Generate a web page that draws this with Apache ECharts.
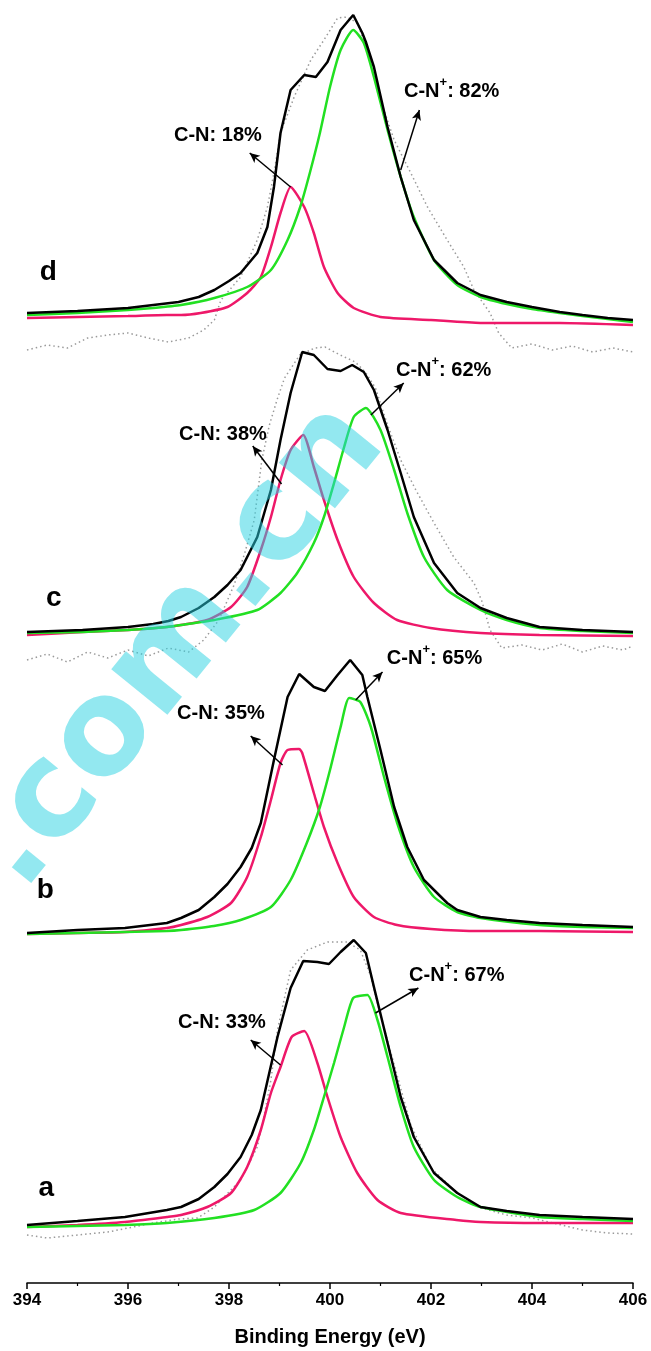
<!DOCTYPE html>
<html>
<head>
<meta charset="utf-8">
<script src="https://cdn.jsdelivr.net/npm/echarts@6/dist/echarts.min.js"></script>
<style>
html,body{margin:0;padding:0;background:#fff;}
#chart{width:651px;height:1351px;}
</style>
</head>
<body>
<div id="chart"></div>
<script>
// ---------- DATA (binding energy in eV, intensity in a.u.) ----------
const xTicks = [394, 396, 398, 400, 402, 404, 406];
const panelNames = ['a', 'b', 'c', 'd'];
const cnShare = [33, 35, 38, 18];
const cnPlusShare = [67, 65, 62, 82];

// sample a
const aEnvelope = [[394,5],[395,9],[395.94,13],[396.77,20],[397.05,23],[397.4,31],[397.71,43],[397.97,56],[398.23,73],[398.45,95],[398.63,120],[398.96,193],[399.22,242],[399.47,269],[399.75,268],[399.98,266],[400.21,278],[400.47,290],[400.71,277],[400.87,243],[401.14,187],[401.4,133],[401.66,93],[402.06,57],[402.52,37],[402.98,23],[403.5,19],[404.15,15],[405,13],[406,11]];
const aCN = [[394,3],[395,5],[395.94,8],[396.77,13],[397.05,15],[397.57,23],[398.04,37],[398.36,63],[398.63,100],[398.83,137],[399.02,163],[399.24,193],[399.49,199],[399.75,167],[399.95,133],[400.21,93],[400.54,57],[400.94,30],[401.4,17],[402.5,10],[402.98,8],[404.15,7],[406,7]];
const aCNplus = [[394,3],[395,4],[395.94,5],[396.77,7],[397.71,12],[398.5,20],[399.02,37],[399.42,67],[399.68,100],[399.88,133],[400.08,167],[400.28,203],[400.46,232],[400.74,235],[400.94,210],[401.14,173],[401.4,123],[401.66,83],[402.06,50],[402.52,33],[402.98,23],[404.15,13],[405,11],[406,9]];
const aRaw = [[394,-5],[394.4,-8],[394.8,-6],[395.2,-4],[395.6,-2],[396,2],[396.5,7],[397,11],[397.38,12],[397.71,23],[398.23,50],[398.56,83],[398.69,113],[398.83,150],[398.96,200],[399.22,260],[399.55,280],[399.95,288],[400.34,288],[400.6,280],[400.8,255],[401,215],[401.3,160],[401.6,105],[402,62],[402.5,38],[403,22],[403.5,15],[404,12],[404.5,6],[405,0],[405.5,-3],[406,-4]];

// sample b
const bEnvelope = [[394,7],[395,10],[395.94,12],[396.77,17],[397.05,22],[397.4,30],[397.71,43],[397.97,56],[398.23,73],[398.45,92],[398.63,117],[398.89,180],[399.16,243],[399.39,266],[399.68,253],[399.9,249],[400.15,265],[400.4,280],[400.64,265],[400.74,243],[401,190],[401.27,133],[401.53,93],[401.86,60],[402.32,37],[402.52,30],[402.98,23],[403.5,20],[404.15,17],[405,15],[406,13]];
const bCN = [[394,6],[395,7],[395.94,8],[396.77,12],[397.05,15],[397.57,23],[398.04,37],[398.36,63],[398.63,103],[398.83,140],[399.02,177],[399.16,190],[399.39,191],[399.45,187],[399.68,147],[399.88,113],[400.15,77],[400.47,43],[400.87,23],[401.33,15],[402,11],[402.98,9],[404.15,9],[406,8]];
const bCNplus = [[394,6],[395,7],[395.94,8],[396.77,9],[397.05,10],[397.7,14],[398.23,20],[398.83,33],[399.22,60],[399.54,97],[399.8,133],[400,170],[400.21,213],[400.38,242],[400.6,238],[400.81,213],[401.07,163],[401.33,117],[401.66,73],[402.06,43],[402.52,28],[402.98,22],[404.15,15],[405,13],[406,12]];

// sample c
const cEnvelope = [[394,8],[395.1,10],[396,13],[396.5,16],[396.8,19],[397.05,23],[397.4,32],[397.71,43],[397.97,55],[398.23,70],[398.56,103],[398.83,150],[399.02,200],[399.22,247],[399.45,288],[399.68,285],[399.95,271],[400.21,269],[400.44,275],[400.67,268],[400.87,250],[401.14,210],[401.4,167],[401.66,123],[402.06,77],[402.52,47],[402.98,32],[403.5,22],[404.15,13],[405,10],[406,8]];
const cCN = [[394,5],[395.1,8],[396,10],[396.77,13],[397.05,15],[397.57,20],[398.04,33],[398.36,53],[398.63,90],[398.83,123],[399.02,160],[399.22,190],[399.47,205],[399.68,173],[399.88,140],[400.15,100],[400.47,63],[400.87,37],[401.33,20],[401.99,12],[402.98,7],[404.15,5],[406,4]];
const cCNplus = [[394,7],[395.1,8],[396,10],[396.77,13],[397.05,15],[397.71,20],[398.56,30],[399.02,47],[399.35,67],[399.68,97],[399.88,123],[400.08,157],[400.28,193],[400.47,223],[400.71,232],[401,210],[401.27,170],[401.53,127],[401.86,83],[402.32,50],[402.98,30],[403.5,20],[404.15,12],[405,9],[406,7]];
const cRaw = [[394,-20],[394.4,-14],[394.8,-22],[395.2,-12],[395.6,-18],[396,-10],[396.4,-16],[396.8,-8],[397.2,-12],[397.5,0],[397.8,20],[398.1,55],[398.3,85],[398.5,120],[398.65,180],[398.8,215],[398.95,240],[399.1,262],[399.4,285],[399.7,292],[399.9,293],[400.2,285],[400.5,278],[400.7,268],[400.9,252],[401.14,215],[401.4,180],[401.7,150],[402.06,117],[402.45,83],[402.85,57],[403,40],[403.17,10],[403.4,-8],[403.8,-5],[404.2,-10],[404.6,-4],[405,-12],[405.4,-6],[405.8,-10],[406,-6]];

// sample d
const dEnvelope = [[394,17],[395,19],[396,22],[396.5,25],[397,28],[397.4,33],[397.71,40],[398,49],[398.23,57],[398.56,77],[398.76,103],[398.89,143],[399.02,197],[399.22,240],[399.49,255],[399.72,253],[399.95,268],[400.21,300],[400.46,315],[400.64,297],[400.71,288],[400.87,263],[401.14,203],[401.4,153],[401.66,110],[402.06,70],[402.52,47],[402.98,35],[403.5,28],[404,23],[404.55,18],[405,15],[405.5,12],[406,10]];
const dCN = [[394,12],[395,13],[396,14],[396.77,15],[397.05,15],[397.44,17],[397.97,23],[398.36,37],[398.63,53],[398.83,83],[399.02,117],[399.22,143],[399.49,123],[399.68,97],[399.88,63],[400.15,37],[400.47,22],[401,13],[402,10],[402.98,7],[404.55,7],[406,5]];
const dCNplus = [[394,15],[395,17],[396,20],[396.5,22],[397.05,25],[397.71,32],[398.36,43],[398.83,60],[399.16,90],[399.41,123],[399.6,157],[399.8,197],[400,243],[400.21,280],[400.46,300],[400.67,287],[400.87,253],[401.14,200],[401.4,153],[401.66,113],[402.06,70],[402.52,45],[402.98,33],[403.5,26],[404,21],[404.55,17],[405,14],[405.5,11],[406,8]];
const dRaw = [[394,-20],[394.4,-15],[394.8,-18],[395.2,-8],[395.6,-5],[396,-3],[396.4,-8],[396.8,-12],[397.2,-8],[397.5,0],[397.71,10],[397.84,30],[398.23,53],[398.56,90],[398.76,123],[398.89,157],[399.02,197],[399.29,233],[399.62,270],[399.88,290],[400.15,312],[400.34,313],[400.54,307],[400.74,280],[401,230],[401.27,190],[401.6,157],[401.93,123],[402.32,90],[402.65,63],[402.85,40],[403.17,17],[403.34,-3],[403.6,-18],[404,-14],[404.4,-20],[404.8,-16],[405.2,-22],[405.6,-18],[406,-22]];

const envelopes = [aEnvelope, bEnvelope, cEnvelope, dEnvelope];
const cnFits = [aCN, bCN, cCN, dCN];
const cnPlusFits = [aCNplus, bCNplus, cCNplus, dCNplus];
const raws = [aRaw, null, cRaw, dRaw];

// ---------- LAYOUT (annotation anchors in data coordinates, pixel layout) ----------
const zeroY = [1230, 940, 640, 330];   // pixel row of each panel's zero level
const panelH = 330;
const letterAt = [[394.38,42],[394.36,50],[394.53,42],[394.42,58]];
const cnTextAt = [[397.86,208],[397.84,227],[397.88,206],[397.78,195]];
const cnArrowFrom = [[399.02,165],[399.06,175],[399.04,156],[399.22,143]];
const cnArrowTo = [[398.43,190],[398.43,204],[398.47,194],[398.41,177]];
const cnpTextAt = [[402.51,255],[402.07,282],[402.25,270],[402.41,239]];
const cnpArrowFrom = [[400.90,217],[400.51,240],[400.81,225],[401.40,160]];
const cnpArrowTo = [[401.75,242],[401.04,268],[401.46,257],[401.77,220]];

const FONT = '"Liberation Sans", Arial, Helvetica, sans-serif';
const COLORS = {env: '#000000', cn: '#ee1869', cnp: '#22e022', raw: '#9a9a9a'};

const grids = zeroY.map(z => ({left: 27, right: 18, top: z - panelH, height: panelH}));
const xAxes = zeroY.map((z, i) => ({
  gridIndex: i, type: 'value', min: 394, max: 406, interval: 2,
  show: i === 0, offset: i === 0 ? 53 : 0,
  name: i === 0 ? 'Binding Energy (eV)' : '',
  nameLocation: 'middle', nameGap: 44,
  nameTextStyle: {fontFamily: FONT, fontWeight: 'bold', fontSize: 20, color: '#000'},
  axisLine: {show: true, onZero: false, lineStyle: {color: '#000', width: 1.5}},
  axisTick: {show: true, length: 6, lineStyle: {color: '#000', width: 1.5}},
  minorTick: {show: true, splitNumber: 2, length: 3, lineStyle: {color: '#000', width: 1.2}},
  axisLabel: {margin: 9, fontFamily: FONT, fontWeight: 'bold', fontSize: 17, color: '#000',
    formatter: v => xTicks.includes(v) ? String(v) : ''},
  splitLine: {show: false}
}));
const yAxes = zeroY.map((z, i) => ({gridIndex: i, type: 'value', min: 0, max: panelH, show: false}));

const richText = {
  b: {fontFamily: FONT, fontWeight: 'bold', fontSize: 20, color: '#000', lineHeight: 30},
  s: {fontFamily: FONT, fontWeight: 'bold', fontSize: 13, color: '#000', lineHeight: 8, verticalAlign: 'top'}
};

const series = [];
panelNames.forEach((name, i) => {
  if (raws[i]) {
    series.push({
      type: 'line', name: 'raw ' + name, xAxisIndex: i, yAxisIndex: i, data: raws[i],
      showSymbol: false, clip: false, z: 1,
      lineStyle: {color: COLORS.raw, width: 1.5, type: [1.5, 3]}
    });
  }
  series.push({
    type: 'line', name: 'C-N ' + name, xAxisIndex: i, yAxisIndex: i, data: cnFits[i],
    showSymbol: false, smooth: 0.2, z: 2,
    lineStyle: {color: COLORS.cn, width: 2.5}
  });
  series.push({
    type: 'line', name: 'C-N+ ' + name, xAxisIndex: i, yAxisIndex: i, data: cnPlusFits[i],
    showSymbol: false, smooth: 0.2, z: 3,
    lineStyle: {color: COLORS.cnp, width: 2.5}
  });
  series.push({
    type: 'line', name: 'envelope ' + name, xAxisIndex: i, yAxisIndex: i, data: envelopes[i],
    showSymbol: false, z: 4,
    lineStyle: {color: COLORS.env, width: 2.5},
    markLine: {
      silent: true, animation: false,
      symbol: ['none', 'arrow'], symbolSize: [7, 10],
      label: {show: false},
      lineStyle: {color: '#000', width: 1.5, type: 'solid'},
      data: [
        [{coord: cnArrowFrom[i]}, {coord: cnArrowTo[i]}],
        [{coord: cnpArrowFrom[i]}, {coord: cnpArrowTo[i]}]
      ]
    },
    markPoint: {
      silent: true, animation: false, symbol: 'circle', symbolSize: 0,
      data: [
        {coord: letterAt[i], label: {show: true, position: 'inside', formatter: name,
          fontFamily: FONT, fontWeight: 'bold', fontSize: 28, color: '#000'}},
        {coord: cnTextAt[i], label: {show: true, position: 'inside',
          formatter: '{b|C-N: ' + cnShare[i] + '%}', rich: richText}},
        {coord: cnpTextAt[i], label: {show: true, position: 'inside',
          formatter: '{b|C-N}{s|+}{b|: ' + cnPlusShare[i] + '%}', rich: richText}}
      ]
    }
  });
});

const chart = echarts.init(document.getElementById('chart'), null, {renderer: 'canvas'});
chart.setOption({
  animation: false,
  backgroundColor: '#ffffff',
  grid: grids,
  xAxis: xAxes,
  yAxis: yAxes,
  series: series,
  graphic: [{
    type: 'text', x: -4, y: 872, rotation: 51 * Math.PI / 180, z: 100, silent: true,
    style: {text: '.com.cn', fontFamily: '"DejaVu Sans", Verdana, sans-serif', fontWeight: 'bold', fontSize: 132,
      fill: 'rgba(40,210,225,0.5)', textAlign: 'left', textVerticalAlign: 'middle',
      align: 'left', verticalAlign: 'middle'}
  }]
});
</script>
</body>
</html>
